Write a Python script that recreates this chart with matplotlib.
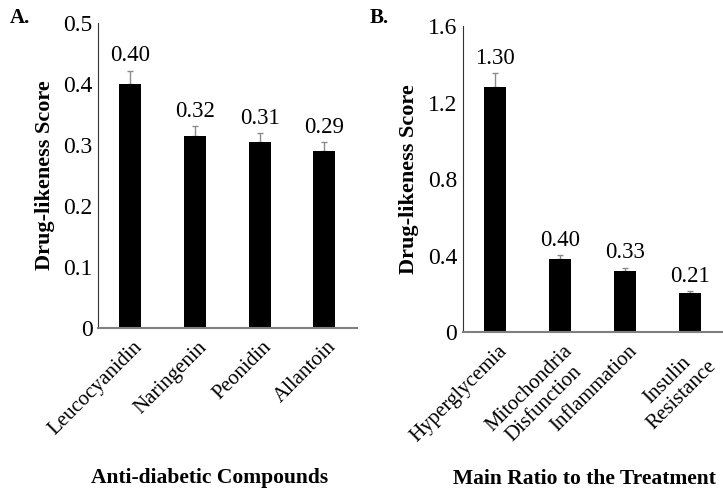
import matplotlib
matplotlib.use("Agg")
import matplotlib.pyplot as plt

plt.rcParams['font.family'] = ['Liberation Serif', 'DejaVu Serif']

# panel A
compounds = ['Leucocyanidin', 'Naringenin', 'Peonidin', 'Allantoin']
compound_scores = [0.40, 0.315, 0.305, 0.29]
compound_err = [0.022, 0.016, 0.015, 0.015]
compound_labels = ['0.40', '0.32', '0.31', '0.29']
a_ticks = [0, 0.1, 0.2, 0.3, 0.4, 0.5]
a_ticklabels = ['0', '0.1', '0.2', '0.3', '0.4', '0.5']

# panel B
targets = ['Hyperglycemia', 'Mitochondria\nDisfunction', 'Inflammation', 'Insulin\nResistance']
target_scores = [1.28, 0.38, 0.32, 0.205]
target_err = [0.075, 0.025, 0.018, 0.012]
target_labels = ['1.30', '0.40', '0.33', '0.21']
b_ticks = [0, 0.4, 0.8, 1.2, 1.6]
b_ticklabels = ['0', '0.4', '0.8', '1.2', '1.6']


def draw_panel(ax, names, scores, err, labels, ticks, ticklabels, xlabel):
    x = list(range(len(names)))
    ax.bar(x, scores, width=0.34, color='black', zorder=2)
    ax.errorbar(x, scores, yerr=[[0] * len(err), err], fmt='none',
                ecolor='#8c8c8c', elinewidth=1, capsize=2, capthick=1, zorder=1)
    for xi, s, e, lab in zip(x, scores, err, labels):
        ax.annotate(lab, (xi, s + e), xytext=(0, 3), textcoords='offset points',
                    ha='center', va='bottom', fontsize=16.5)
    ax.set_xlim(-0.5, len(names) - 0.5)
    ax.set_ylim(ticks[0], ticks[-1])
    ax.set_yticks(ticks)
    ax.set_yticklabels(ticklabels, fontsize=17)
    ax.set_xticks([xi + 0.04 for xi in x])
    ax.set_xticklabels(names, rotation=45, ha='right', rotation_mode='anchor',
                       fontsize=15, multialignment='center', linespacing=1.15)
    ax.tick_params(axis='y', length=0, pad=4)
    ax.tick_params(axis='x', length=0, pad=7)
    ax.spines['top'].set_visible(False)
    ax.spines['right'].set_visible(False)
    ax.spines['left'].set_color('#333333')
    ax.spines['left'].set_linewidth(0.8)
    ax.spines['bottom'].set_color('#7f7f7f')
    ax.spines['bottom'].set_linewidth(1.5)
    ax.set_ylabel('Drug-likeness Score', fontsize=16, fontweight='bold', labelpad=6)
    ax.set_xlabel(xlabel, fontsize=15.5, fontweight='bold')


fig = plt.figure(figsize=(7.23, 4.90), dpi=100)
ax_a = fig.add_axes([0.1355, 0.331, 0.358, 0.622])
ax_b = fig.add_axes([0.640, 0.322, 0.359, 0.625])

draw_panel(ax_a, compounds, compound_scores, compound_err, compound_labels,
           a_ticks, a_ticklabels, 'Anti-diabetic Compounds')
draw_panel(ax_b, targets, target_scores, target_err, target_labels,
           b_ticks, b_ticklabels, 'Main Ratio to the Treatment')
ax_a.xaxis.set_label_coords(0.43, -0.46)
ax_b.xaxis.set_label_coords(0.47, -0.445)
ax_a.text(-0.34, 1.016, 'A.', transform=ax_a.transAxes, fontsize=15,
          fontweight='bold', va='center')
ax_b.text(-0.358, 1.026, 'B.', transform=ax_b.transAxes, fontsize=15,
          fontweight='bold', va='center')

fig.savefig('out.png', dpi=100)
